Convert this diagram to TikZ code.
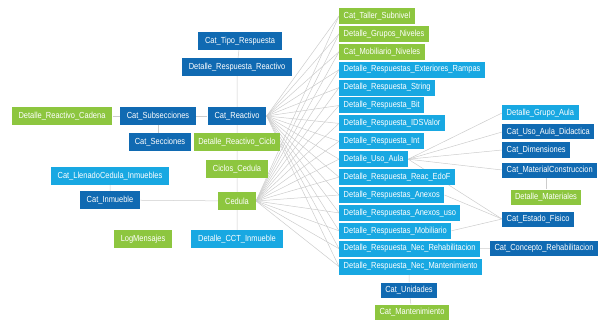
\documentclass[tikz,border=0pt]{standalone}
\usepackage{fontspec}
\setmainfont{Liberation Sans}[FakeStretch=0.85]
\usetikzlibrary{backgrounds}
\definecolor{catblue}{RGB}{16,106,178}
\definecolor{detblue}{RGB}{24,168,226}
\definecolor{leafgreen}{RGB}{141,198,63}
\definecolor{linkgray}{RGB}{204,204,204}
\tikzset{
  tbl/.style={text=white, font=\fontsize{8.8}{9}\selectfont, inner xsep=7pt, inner ysep=0pt, minimum height=18pt},
  cattbl/.style={tbl, fill=catblue},
  dettbl/.style={tbl, fill=detblue},
  grntbl/.style={tbl, fill=leafgreen},
  midtbl/.style={anchor=west, minimum height=16pt, inner xsep=4.5pt},
  rgttbl/.style={minimum height=15pt, inner xsep=4.5pt},
  link/.style={draw=linkgray, line width=0.5pt},
}

\begin{document}
\begin{tikzpicture}[x=1pt, y=-1pt]
    \useasboundingbox (0,0) rectangle (601,323);

    % Reactivo branch
    \node[cattbl] (tipo) at (240,41) {Cat\_Tipo\_Respuesta};
    \node[cattbl] (detresp) at (237,67) {Detalle\_Respuesta\_Reactivo};
    \node[cattbl] (reactivo) at (237,116) {Cat\_Reactivo};
    \node[cattbl] (subsec) at (158,116) {Cat\_Subsecciones};
    \node[grntbl] (cadena) at (62,116) {Detalle\_Reactivo\_Cadena};
    \node[cattbl, inner xsep=5.5pt] (secciones) at (160,142) {Cat\_Secciones};
    \node[grntbl, inner xsep=4.5pt] (ciclo) at (237,142) {Detalle\_Reactivo\_Ciclo};

    % Cedula branch
    \node[grntbl] (cicloscedula) at (237,169) {Ciclos\_Cedula};
    \node[grntbl] (cedula) at (237,201) {Cedula};
    \node[dettbl] (llenado) at (110,176) {Cat\_LlenadoCedula\_Inmuebles};
    \node[cattbl] (inmueble) at (110,200) {Cat\_Inmueble};
    \node[grntbl] (logmsj) at (143,239) {LogMensajes};
    \node[dettbl] (cct) at (237,239) {Detalle\_CCT\_Inmueble};

    % Middle column
    \foreach \name/\txt/\sty [count=\i from 0] in {
        taller/Cat\_Taller\_Subnivel/grntbl,
        gruposniv/Detalle\_Grupos\_Niveles/grntbl,
        mobniv/Cat\_Mobiliario\_Niveles/grntbl,
        rampas/Detalle\_Respuestas\_Exteriores\_Rampas/dettbl,
        string/Detalle\_Respuesta\_String/dettbl,
        bit/Detalle\_Respuesta\_Bit/dettbl,
        idsvalor/Detalle\_Respuesta\_IDSValor/dettbl,
        int/Detalle\_Respuesta\_Int/dettbl,
        usoaula/Detalle\_Uso\_Aula/dettbl,
        edof/Detalle\_Respuesta\_Reac\_EdoF/dettbl,
        anexos/Detalle\_Respuestas\_Anexos/dettbl,
        anexosuso/Detalle\_Respuestas\_Anexos\_uso/dettbl,
        mobiliario/Detalle\_Respuestas\_Mobiliario/dettbl,
        nrehab/Detalle\_Respuesta\_Nec\_Rehabilitacion/dettbl,
        nmant/Detalle\_Respuesta\_Nec\_Mantenimiento/dettbl}
        \node[\sty, midtbl] (\name) at (339,{16+17.9*\i}) {\txt};

    \node[cattbl, rgttbl] (unidades) at (409,290) {Cat\_Unidades};
    \node[grntbl, rgttbl] (mant) at (412,312) {Cat\_Mantenimiento};

    % Right column
    \node[dettbl, rgttbl, anchor=west] (grupoaula) at (502,113) {Detalle\_Grupo\_Aula};
    \node[cattbl, rgttbl, anchor=west] (usodid) at (502,132) {Cat\_Uso\_Aula\_Didactica};
    \node[cattbl, rgttbl, anchor=west] (dimens) at (502,150) {Cat\_Dimensiones};
    \node[cattbl, rgttbl, anchor=west] (matcons) at (502,170) {Cat\_MaterialConstruccion};
    \node[grntbl, rgttbl] (materiales) at (546,197) {Detalle\_Materiales};
    \node[cattbl, rgttbl, anchor=west] (edofis) at (502,219) {Cat\_Estado\_Fisico};
    \node[cattbl, rgttbl] (concepto) at (544,248) {Cat\_Concepto\_Rehabilitacion};

    % Links
    \begin{scope}[on background layer]
        \draw[link] (tipo) -- (detresp) -- (reactivo) -- (ciclo) -- (cicloscedula) -- (cedula) -- (cct);
        \draw[link] (cadena) -- (subsec) -- (reactivo);
        \draw[link] (subsec) -- (subsec |- secciones.north);
        \draw[link] (llenado) -- (inmueble) -- (cedula);
        \foreach \m in {taller,gruposniv,mobniv,rampas,string,bit,idsvalor,int,usoaula,edof,anexos,anexosuso,mobiliario,nrehab,nmant} {
            \draw[link] (reactivo.east) -- (\m.west);
            \draw[link] (cedula.east) -- (\m.west);
        }
        \foreach \r in {grupoaula,usodid,dimens,matcons,edofis}
            \draw[link] (usoaula.east) -- (\r.west);
        \draw[link] (anexos.east) -- (edofis.west);
        \draw[link] (mobiliario.east) -- (edofis.west);
        \draw[link] (matcons.south -| materiales) -- (materiales);
        \draw[link] (nrehab) -- (concepto);
        \draw[link] (nmant.south -| unidades) -- (unidades) -- (mant);
    \end{scope}
\end{tikzpicture}
\end{document}
